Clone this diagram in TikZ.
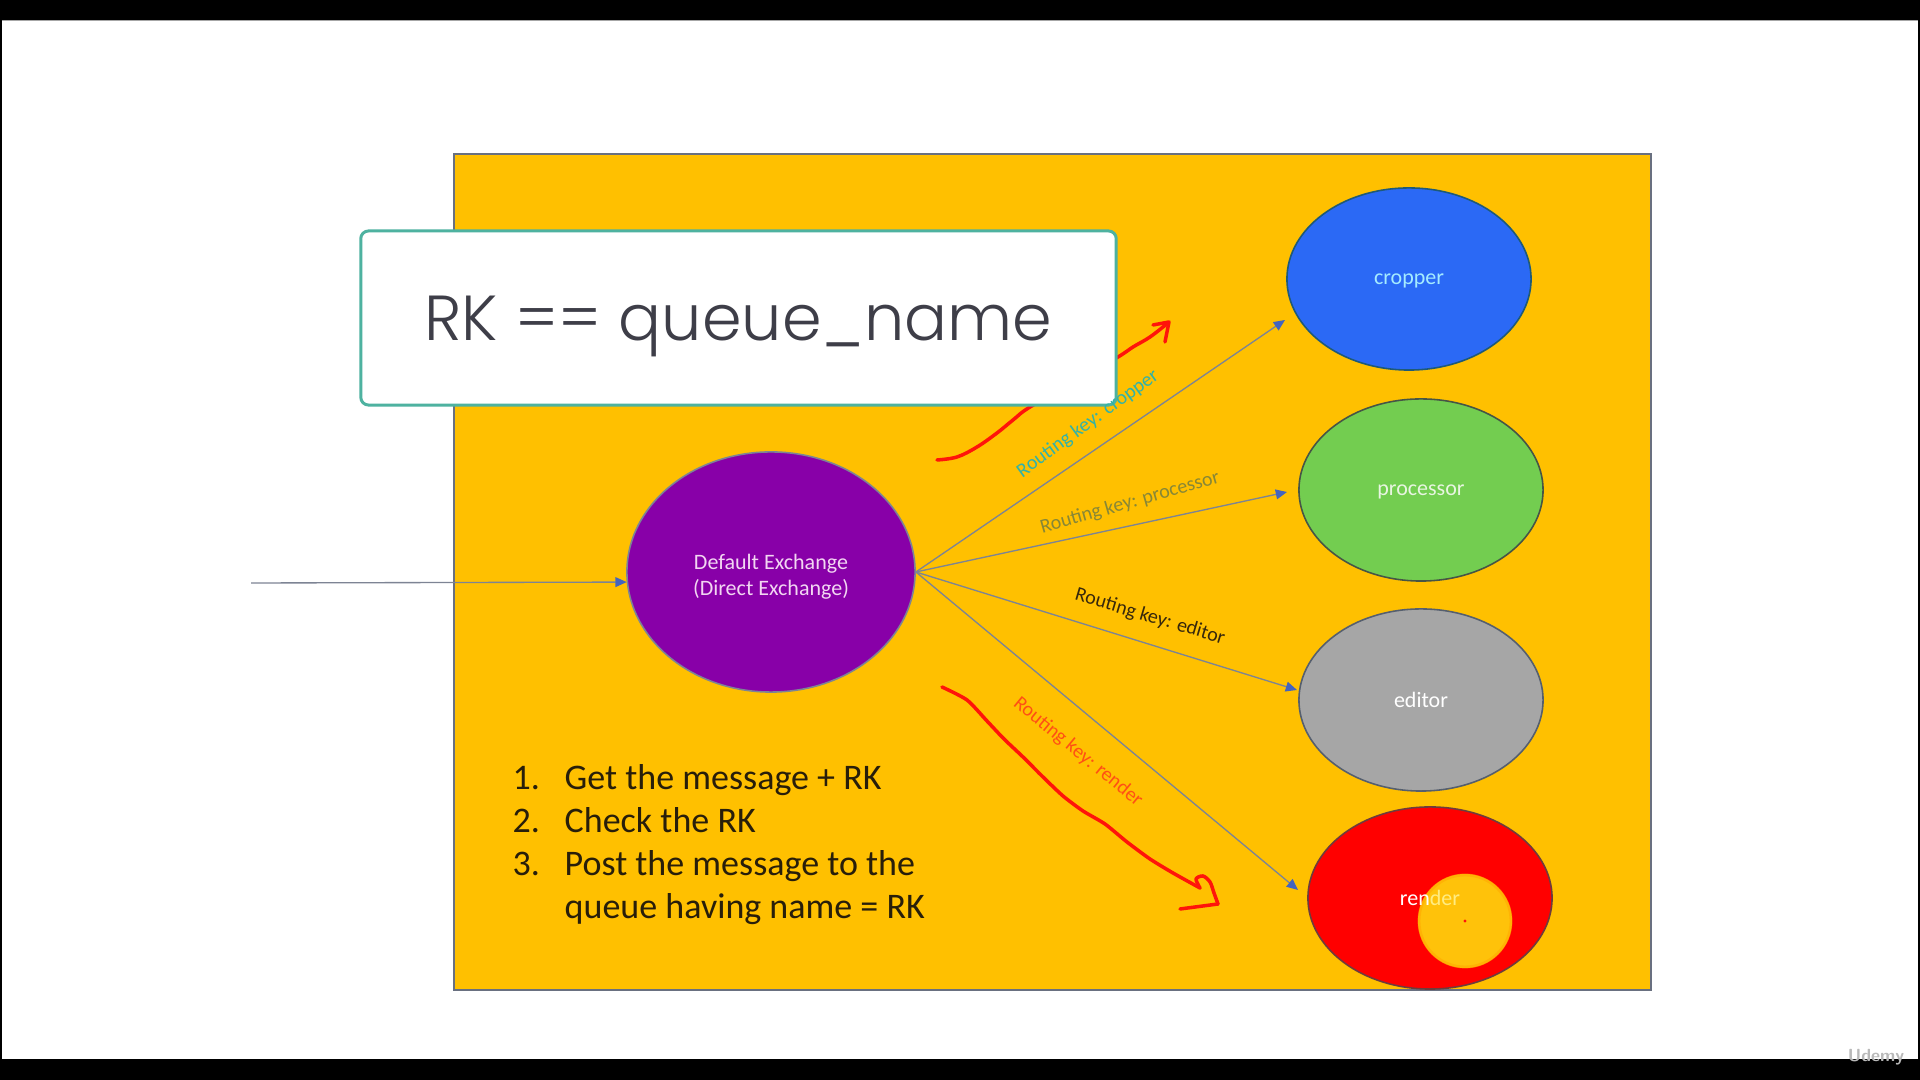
\documentclass[tikz,border=0pt]{standalone}
\usepackage{fontspec}
\setmainfont{Carlito}
\IfFontExistsTF{Poppins Light}{\newfontfamily\headfont{Poppins Light}}{\newfontfamily\headfont{Poppins}}
\usetikzlibrary{shapes.geometric,arrows.meta,calc}

\definecolor{slideorange}{RGB}{255,192,0}
\definecolor{slideedge}{RGB}{105,112,128}
\definecolor{boxteal}{RGB}{78,178,160}
\definecolor{headink}{RGB}{62,62,72}
\definecolor{exchpurple}{RGB}{136,0,168}
\definecolor{exchtext}{RGB}{242,214,242}
\definecolor{cropblue}{RGB}{43,105,245}
\definecolor{cropedge}{RGB}{30,90,120}
\definecolor{croptext}{RGB}{165,235,255}
\definecolor{procgreen}{RGB}{115,205,80}
\definecolor{procedge}{RGB}{70,85,70}
\definecolor{proctext}{RGB}{232,245,225}
\definecolor{editgray}{RGB}{166,166,166}
\definecolor{editedge}{RGB}{85,95,110}
\definecolor{rendred}{RGB}{255,0,0}
\definecolor{rendedge}{RGB}{110,60,60}
\definecolor{hlyellow}{RGB}{255,194,10}
\definecolor{hlring}{RGB}{255,170,0}
\definecolor{paleyellow}{RGB}{255,236,130}
\definecolor{linegray}{RGB}{125,132,148}
\definecolor{arrowblue}{RGB}{68,100,190}
\definecolor{lblteal}{RGB}{50,178,168}
\definecolor{lblolive}{RGB}{135,135,55}
\definecolor{lbldark}{RGB}{55,40,12}
\definecolor{lblred}{RGB}{255,80,20}
\definecolor{penred}{RGB}{255,20,10}
\definecolor{listink}{RGB}{40,30,10}

\begin{document}
\begin{tikzpicture}[x=0.01cm,y=-0.01cm,
  qnode/.style={ellipse, line width=0.45pt, inner sep=0pt,
    minimum width=2.44cm, minimum height=1.82cm, text depth=0pt,
    font=\fontsize{6.26}{7.4}\selectfont},
  flow/.style={draw=linegray, line width=0.38pt,
    -{Triangle[length=3.2pt,width=2.8pt,color=arrowblue]}},
  rklabel/.style={font=\fontsize{5.7}{6.8}\selectfont, inner sep=0pt},
  redpen/.style={draw=penred, line width=1pt, line cap=round, line join=round},
  listtext/.style={font=\fontsize{10.24}{12.2}\selectfont, text=listink,
    inner sep=0pt, anchor=base west}]

\useasboundingbox (0,0) rectangle (1920,1080);

% screen frame
\fill[black] (0,0) rectangle (1920,1080);
\fill[white] (2,20) rectangle (1918,1059);
\draw[gray!70, line width=0.3pt] (2,20.5) -- (1918,20.5);

% slide background
\draw[draw=slideedge, line width=0.6pt, fill=slideorange] (454,154) rectangle (1651,990);

% hand-drawn annotation (upper), partly hidden by the formula box
\draw[redpen] plot[smooth, tension=0.6] coordinates {(937,460) (957,457) (977,447) (997,433)
  (1013,420) (1030,407) (1075,382) (1118,357) (1133,347) (1150,337) (1168,323)};
\draw[redpen] (1153,325) -- (1169,322) -- (1165,342);

% hand-drawn annotation (lower)
\draw[redpen] plot[smooth, tension=0.4] coordinates {(942,687) (967,700) (987,721)
  (1004,739) (1023,757) (1043,777) (1063,796) (1083,811) (1105,824)
  (1127,842) (1150,859) (1173,873) (1200,888)};
\draw[redpen] plot[smooth, tension=0.5] coordinates {(1200,888) (1196,879) (1203,876)
  (1210,882) (1214,893) (1218,904)};
\draw[redpen] (1218,904) -- (1180,909);

% formula box
\node[draw=boxteal, line width=0.85pt, fill=white, rounded corners=2.2pt,
  minimum width=7.55cm, minimum height=1.74cm, inner sep=0pt, text depth=0pt,
  font=\headfont\fontsize{18.1}{22}\selectfont, text=headink]
  (rk) at (738.5,318) {RK == queue\_name};

% exchange
\node[ellipse, fill=exchpurple, draw=linegray, line width=0.45pt, inner sep=0pt,
  minimum width=2.88cm, minimum height=2.40cm, align=center, text=exchtext,
  font=\fontsize{6.26}{7.4}\selectfont]
  (ex) at (771,572) {};
\node[inner sep=0pt, align=center, text=exchtext, font=\fontsize{6.26}{7.4}\selectfont]
  (exlabel) at ([yshift=-0.05cm]ex.center) {Default Exchange\\(Direct Exchange)};

% queues
\node[qnode, fill=cropblue, draw=cropedge, text=croptext] (crop) at (1409,279) {cropper};
\node[qnode, fill=procgreen, draw=procedge, text=proctext] (proc) at (1421,490) {processor};
\node[qnode, fill=editgray, draw=editedge, text=white] (edit) at (1421,700) {editor};
\node[qnode, fill=rendred, draw=rendedge] (rend) at (1430,898) {};

% pointer highlight over the render queue
\fill[hlyellow] (1465,921) circle (47);
\draw[hlring, line width=0.8pt, opacity=0.6] (1465,921) circle (46);
\node[inner sep=0pt, text depth=0pt, font=\fontsize{6.26}{7.4}\selectfont] (rendlabel)
  at (rend.center) {\textcolor{white}{ren}\textcolor{paleyellow}{der}};
\fill[penred] (1465,921) circle (1.6);

% arrow end points
\coordinate (src) at (ex.east);
\coordinate (cropin) at ([shift={(-124,41)}]crop.center);
\coordinate (procin) at ([shift={(-134,2)}]proc.center);
\coordinate (editin) at ([shift={(-124,-10)}]edit.center);
\coordinate (rendin) at ([shift={(-132,-8)}]rend.center);
\coordinate (publisher) at (251,583);

% connectors
\draw[flow] (publisher) -- (ex.184);
\draw[flow] (src) -- (cropin);
\draw[flow] (src) -- (procin);
\draw[flow] (src) -- (editin);
\draw[flow] (src) -- (rendin);

% routing key labels
\node[rklabel, text=lblteal, rotate=36] (lcrop) at (1088,424) {Routing key: cropper};
\node[rklabel, text=lblolive, rotate=16] (lproc) at (1130,503) {Routing key: processor};
\node[rklabel, text=lbldark, rotate=-16.5] (ledit) at (1150,617) {Routing key: editor};
\node[rklabel, text=lblred, rotate=-39.4] (lrend) at (1078,752) {Routing key: render};

% steps
\node[listtext] (n1) at (512,790) {1.};
\node[listtext] (t1) at (564,790) {Get the message + RK};
\node[listtext] (n2) at (512,833) {2.};
\node[listtext] (t2) at (564,833) {Check the RK};
\node[listtext] (n3) at (512,876) {3.};
\node[listtext] (t3) at (564,876) {Post the message to the};
\node[listtext] (t4) at (564,919) {queue having name = RK};

% watermark
\node[inner sep=0pt, text=gray!55, font=\sffamily\bfseries\fontsize{5}{6}\selectfont]
  (mark) at (1876,1057) {Udemy};
\end{tikzpicture}
\end{document}
